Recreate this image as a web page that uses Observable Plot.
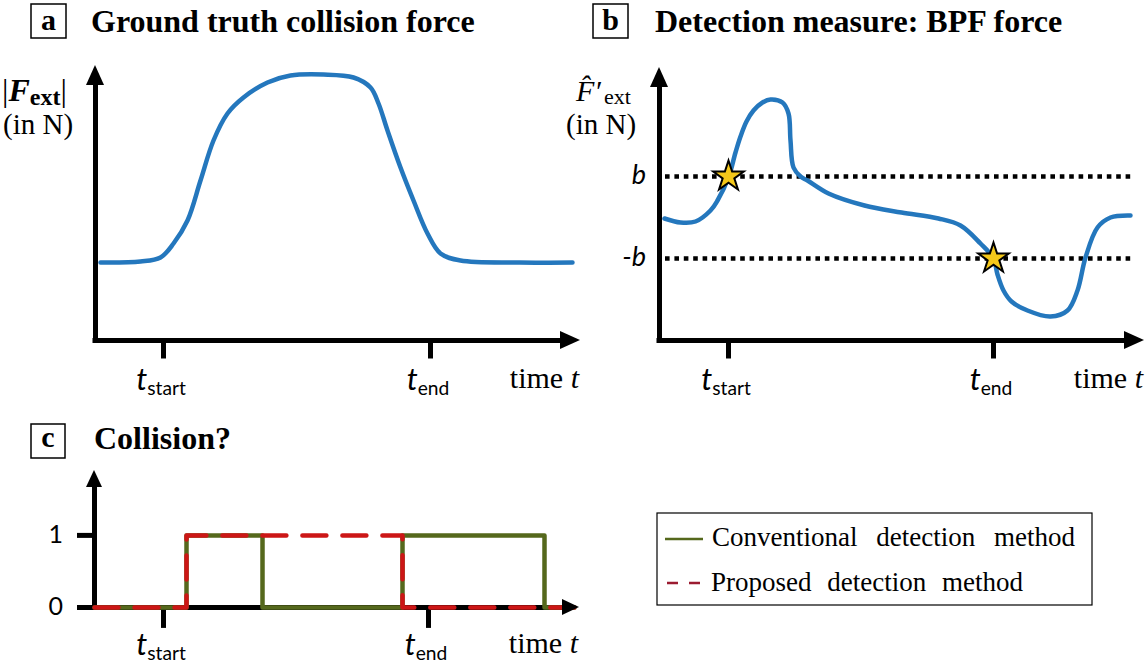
<!DOCTYPE html>
<html><head><meta charset="utf-8">
<script src="https://cdn.jsdelivr.net/npm/d3@7"></script>
<script src="https://cdn.jsdelivr.net/npm/@observablehq/plot@0.6"></script>
<style>
body{margin:0;background:#fff;}
#root{position:relative;width:1145px;height:665px;overflow:hidden;background:#fff;}
#root svg.plotsvg{position:absolute;background:transparent;overflow:visible;max-width:none;}
#overlay{position:absolute;left:0;top:0;pointer-events:none;}
</style>
</head><body>
<div id="root"></div>
<script>
// ---------- data ----------
// Panel a: ground truth collision force |F_ext| (arbitrary units) vs time
const timeA  = [1, 9, 13, 15.6, 18.4, 21, 23.6, 26.4, 29.6, 34.4, 39, 45.6, 51.6, 55, 56.6, 58.4, 61, 63.6, 66.4, 69, 73, 84.8, 95.4];
const forceA = [15.6, 15.8, 16.6, 19.4, 24, 32, 40, 45.4, 48.6, 51.6, 53, 53.2, 52.6, 50.6, 47.4, 42, 34.6, 28, 21.4, 17.4, 16, 15.6, 15.6];
const ticksA = [13.6, 67];

// Panel b: BPF force vs time
const timeB  = [1, 4.2, 7.2, 10.2, 11.6, 13.8, 15.2, 16.2, 17.4, 18.8, 20.6, 22.2, 24.6, 25.8, 26.2, 26.8, 28.2, 29.6, 33.8, 41, 48.4, 55.8, 60.2, 64.2, 66.8, 67.6, 68.8, 70.4, 73.6, 78.2, 81.6, 83.6, 85.2, 87.6, 90.2, 94.2];
const forceB = [-0.2, -1, -0.8, 1.4, 3.4, 8, 13, 16.2, 19.2, 21.4, 23, 23.6, 23, 20.8, 15.4, 10, 8.2, 7.4, 4.8, 2.4, 1, -0.2, -1.6, -5.2, -8.2, -11.4, -14.6, -16.8, -18.6, -19.8, -18.6, -14.6, -8, -2, 0, 0.4];
const thresholdB = 8.2;
const ticksB = [13.8, 66.8];
const starsT = [13.8, 66.8];
const starsV = [8.2, -8.2];

// Panel c: collision decision (0/1) vs time
const convT = [0, 18.4, 33.6, 61.6, 90, 96];
const convV = [0, 1, 0, 1, 0, 0];
const propT = [0, 18.4, 61.6, 96];
const propV = [0, 1, 0, 0];
const ticksC = [13.8, 66.8];
const levelsC = [0, 1];
const tickLabels = [["t", "start"], ["t", "end"]];

// ---------- styles ----------
const BLUE = "#2477bd", OLIVE = "#55681c", RED = "#cc1616";
const SERIF = "'Liberation Serif','Times New Roman',serif";
const SANS = "Lato,'Open Sans',sans-serif";

const root = document.getElementById("root");

function place(plot, left, top) {
  plot.classList.add("plotsvg");
  plot.style.left = left + "px";
  plot.style.top = top + "px";
  root.appendChild(plot);
  return plot;
}

// ---------- panel a ----------
const pa = place(Plot.plot({
  width: 590, height: 400,
  marginLeft: 95, marginRight: 10, marginTop: 65, marginBottom: 60,
  x: {domain: [0, 97], axis: null},
  y: {domain: [0, 55], axis: null},
  marks: [
    Plot.ruleY([0], {x1: 0, x2: 93, stroke: "#000", strokeWidth: 5, strokeLinecap: "square"}),
    Plot.ruleX([0], {y1: 0, y2: 51, stroke: "#000", strokeWidth: 5, strokeLinecap: "square"}),
    Plot.ruleX(ticksA, {y1: 0, y2: -3.7, stroke: "#000", strokeWidth: 5}),
    Plot.line(timeA, {x: timeA, y: forceA, curve: "catmull-rom", stroke: BLUE, strokeWidth: 4.5})
  ]
}), 0, 0);

// ---------- panel b ----------
const pb = place(Plot.plot({
  width: 585, height: 400,
  marginLeft: 99, marginRight: 1, marginTop: 67, marginBottom: 60,
  x: {domain: [0, 97], axis: null},
  y: {domain: [-24.6, 30], axis: null},
  marks: [
    Plot.ruleY([-24.6], {x1: 0, x2: 93, stroke: "#000", strokeWidth: 5, strokeLinecap: "square"}),
    Plot.ruleX([0], {y1: -24.6, y2: 26, stroke: "#000", strokeWidth: 5, strokeLinecap: "square"}),
    Plot.ruleX(ticksB, {y1: -24.6, y2: -28.3, stroke: "#000", strokeWidth: 5}),
    Plot.ruleY([thresholdB, -thresholdB], {x1: 1.2, x2: 94.8, stroke: "#000", strokeWidth: 4.5, strokeDasharray: "4.6,4.8"}),
    Plot.line(timeB, {x: timeB, y: forceB, curve: "catmull-rom", stroke: BLUE, strokeWidth: 4.5}),
    Plot.dot(starsT, {x: starsT, y: starsV, symbol: "star", r: 9.6, fill: "#f4c81a", stroke: "#000", strokeWidth: 2})
  ]
}), 560, 0);

// ---------- panel c ----------
const pc = place(Plot.plot({
  width: 600, height: 255,
  marginLeft: 94, marginRight: 21, marginTop: 60, marginBottom: 58,
  x: {domain: [0, 97], axis: null},
  y: {domain: [0, 1.9], axis: null},
  marks: [
    Plot.ruleY([0], {x1: -3.4, x2: 94, stroke: "#000", strokeWidth: 5}),
    Plot.ruleY([1], {x1: -3.4, x2: 0, stroke: "#000", strokeWidth: 5}),
    Plot.ruleX([0], {y1: 0, y2: 1.68, stroke: "#000", strokeWidth: 5, strokeLinecap: "square"}),
    Plot.ruleX(ticksC, {y1: 0, y2: -0.29, stroke: "#000", strokeWidth: 5}),
    Plot.line(convT, {x: convT, y: convV, curve: "step-after", stroke: OLIVE, strokeWidth: 4.5}),
    Plot.line(propT, {x: propT, y: propV, curve: "step-after", stroke: RED, strokeWidth: 4.5, strokeDasharray: "24,16"})
  ]
}), 0, 410);

// ---------- overlay (arrows, labels, titles, legend) ----------
const ov = d3.select(root).append("svg").attr("id", "overlay").attr("width", 1145).attr("height", 665);

function arrows(plot, left, top, xmax, yAxisVal, ymax, len, hw) {
  const sx = plot.scale("x"), sy = plot.scale("y");
  const ox = left + sx.apply(0), oy = top + sy.apply(yAxisVal);
  const tx = left + sx.apply(xmax), ty = top + sy.apply(ymax);
  ov.append("polygon").attr("points", `${ox - hw},${ty + len} ${ox + hw},${ty + len} ${ox},${ty}`).attr("fill", "#000");
  ov.append("polygon").attr("points", `${tx - len},${oy - hw} ${tx - len},${oy + hw} ${tx},${oy}`).attr("fill", "#000");
}
arrows(pa, 0, 0, 97, 0, 55, 20, 9);
arrows(pb, 560, 0, 97, -24.6, 30, 20, 9);
arrows(pc, 0, 410, 97, 0, 1.9, 17, 8);

function tickLabel(plot, left, top, ticks, yAxisVal, dyBase, size) {
  const sx = plot.scale("x"), sy = plot.scale("y");
  ticks.forEach((t, i) => {
    const x = left + sx.apply(t) - 2, y = top + sy.apply(yAxisVal) + dyBase;
    const el = ov.append("text").attr("x", x).attr("y", y).attr("text-anchor", "middle")
      .attr("font-family", SANS).attr("font-size", size);
    el.append("tspan").attr("font-style", "italic").text(tickLabels[i][0]);
    el.append("tspan").attr("font-size", size * 0.62).attr("dy", 5).text(tickLabels[i][1]);
  });
  const el = ov.append("text").attr("x", left + sx.apply(97) - 1).attr("y", top + sy.apply(yAxisVal) + dyBase - 2)
    .attr("text-anchor", "end").attr("font-family", SERIF).attr("font-size", 30);
  el.append("tspan").text("time ");
  el.append("tspan").attr("font-style", "italic").text("t");
}
tickLabel(pa, 0, 0, ticksA, 0, 50, 31);
tickLabel(pb, 560, 0, ticksB, -24.6, 50, 31);
tickLabel(pc, 0, 410, ticksC, 0, 48, 31);

// threshold labels in b
{
  const sy = pb.scale("y");
  [["b", thresholdB], ["-b", -thresholdB]].forEach(([s, v]) => {
    ov.append("text").attr("x", 646).attr("y", sy.apply(v) + 8).attr("text-anchor", "end")
      .attr("font-family", SANS).attr("font-style", "italic").attr("font-size", 27).text(s);
  });
}
// level labels in c
{
  const sy = pc.scale("y");
  levelsC.forEach(v => {
    ov.append("text").attr("x", 63).attr("y", 410 + sy.apply(v) + 8).attr("text-anchor", "end")
      .attr("font-family", SANS).attr("font-size", 25).text(String(v));
  });
}

// y-axis titles
{
  const t = ov.append("text").attr("x", 2).attr("y", 101).attr("font-family", SERIF).attr("font-size", 32);
  t.append("tspan").text("|");
  t.append("tspan").attr("font-weight", "bold").attr("font-style", "italic").text("F");
  t.append("tspan").attr("font-weight", "bold").attr("font-size", 24).attr("dy", 4).text("ext");
  t.append("tspan").attr("dy", -4).text("|");
  ov.append("text").attr("x", 3).attr("y", 134).attr("font-family", SERIF).attr("font-size", 29).text("(in N)");

  const u = ov.append("text").attr("x", 576).attr("y", 101).attr("font-family", SERIF).attr("font-size", 30);
  u.append("tspan").attr("font-style", "italic").text("F\u0302\u2032");
  u.append("tspan").attr("font-size", 22).attr("dx", 3).attr("dy", 3).text("ext");
  ov.append("text").attr("x", 566).attr("y", 134).attr("font-family", SERIF).attr("font-size", 29).text("(in N)");
}

// panel titles
function title(bx, by, bw, bh, letter, text, tx, base) {
  ov.append("rect").attr("x", bx).attr("y", by).attr("width", bw).attr("height", bh)
    .attr("fill", "none").attr("stroke", "#000").attr("stroke-width", 1.5);
  ov.append("text").attr("x", bx + bw / 2).attr("y", base - 2).attr("text-anchor", "middle")
    .attr("font-family", SERIF).attr("font-weight", "bold").attr("font-size", 30).text(letter);
  ov.append("text").attr("x", tx).attr("y", base).attr("font-family", SERIF).attr("font-weight", "bold")
    .attr("font-size", 32).text(text);
}
title(31, 4, 35, 34, "a", "Ground truth collision force", 91, 32);
title(593, 4, 35, 34, "b", "Detection measure: BPF force", 655, 32);
title(31, 424, 34, 34, "c", "Collision?", 94, 449);

// legend
ov.append("rect").attr("x", 657).attr("y", 513).attr("width", 435).attr("height", 92)
  .attr("fill", "#fff").attr("stroke", "#000").attr("stroke-width", 1.2);
ov.append("line").attr("x1", 665).attr("x2", 703).attr("y1", 539).attr("y2", 539)
  .attr("stroke", OLIVE).attr("stroke-width", 2.5);
ov.append("line").attr("x1", 667).attr("x2", 701).attr("y1", 583).attr("y2", 583)
  .attr("stroke", "#9b1b30").attr("stroke-width", 2.5).attr("stroke-dasharray", "11,11");
ov.append("text").attr("x", 712).attr("y", 546).attr("font-family", SERIF).attr("font-size", 27)
  .attr("word-spacing", 12).text("Conventional detection method");
ov.append("text").attr("x", 711).attr("y", 591).attr("font-family", SERIF).attr("font-size", 27)
  .attr("word-spacing", 9).text("Proposed detection method");
</script>
</body></html>
